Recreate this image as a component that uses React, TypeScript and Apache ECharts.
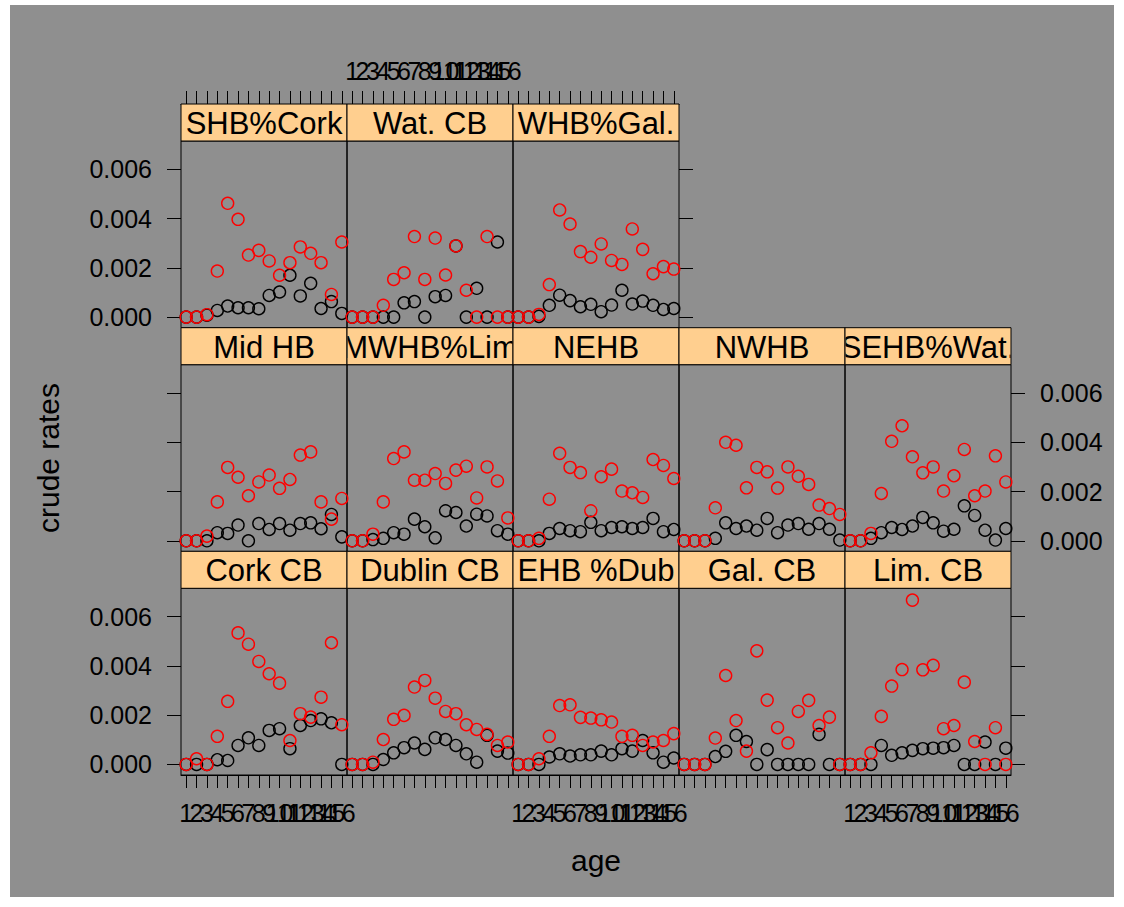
import React, { useEffect, useRef } from "react";
import * as echarts from "echarts";

// ---------- data ----------
const ages = [1, 2, 3, 4, 5, 6, 7, 8, 9, 10, 11, 12, 13, 14, 15, 16];
const yTicks = [0, 0.002, 0.004, 0.006];

const topRowNames = ["SHB%Cork", "Wat. CB", "WHB%Gal."];
const midRowNames = ["Mid HB", "MWHB%Lim", "NEHB", "NWHB", "SEHB%Wat."];
const botRowNames = ["Cork CB", "Dublin CB", "EHB %Dub", "Gal. CB", "Lim. CB"];

const shbCorkBlack = [0, 0, 0.00008, 0.00027, 0.00045, 0.00038, 0.00038, 0.00034, 0.00088, 0.00102, 0.0017, 0.00086, 0.00137, 0.00035, 0.00063, 0.00015];
const shbCorkRed = [0, 0, 0.0001, 0.00187, 0.00462, 0.00397, 0.00252, 0.00271, 0.00228, 0.0017, 0.00221, 0.00285, 0.00259, 0.00221, 0.00092, 0.00305];
const watCbBlack = [0, 0, 0, 0, 0, 0.00058, 0.00063, 0, 0.00083, 0.00088, 0.00289, 0, 0.00117, 0, 0.00305, 0];
const watCbRed = [0, 0, 0, 0.00048, 0.00153, 0.0018, 0.00327, 0.00153, 0.00321, 0.00171, 0.00289, 0.00109, 0, 0.00327, 0, 0];
const whbGalBlack = [0, 0, 0.00003, 0.00048, 0.00089, 0.00067, 0.00042, 0.00052, 0.00022, 0.00049, 0.00109, 0.00053, 0.00065, 0.00048, 0.00031, 0.00035];
const whbGalRed = [0, 0, 0.00011, 0.00132, 0.00435, 0.00378, 0.00266, 0.00243, 0.00297, 0.0023, 0.00214, 0.00358, 0.00275, 0.00176, 0.00205, 0.00195];

const midHbBlack = [0, 0, 0, 0.00033, 0.0003, 0.00064, 0, 0.0007, 0.00046, 0.0007, 0.00043, 0.0007, 0.00073, 0.00049, 0.00107, 0.00016];
const midHbRed = [0, 0, 0.00019, 0.00158, 0.00298, 0.00258, 0.00183, 0.00239, 0.00267, 0.00213, 0.00249, 0.00348, 0.00361, 0.00158, 0.00088, 0.00172];
const mwhbLimBlack = [0, 0, 0.00005, 0.0001, 0.00033, 0.00027, 0.00088, 0.00057, 0.00012, 0.00122, 0.00115, 0.0006, 0.00108, 0.00101, 0.00041, 0.00027];
const mwhbLimRed = [0, 0, 0.00027, 0.00158, 0.00334, 0.00361, 0.00246, 0.00246, 0.00273, 0.00233, 0.00287, 0.00303, 0.00174, 0.003, 0.00243, 0.00093];
const nehbBlack = [0, 0, 0, 0.0003, 0.0005, 0.00041, 0.00037, 0.00075, 0.00041, 0.00054, 0.00057, 0.0005, 0.00054, 0.00091, 0.00037, 0.00046];
const nehbRed = [0, 0, 0.0001, 0.00169, 0.00355, 0.00298, 0.00277, 0.00122, 0.0026, 0.00291, 0.00202, 0.00195, 0.00176, 0.0033, 0.00306, 0.00253];
const nwhbBlack = [0, 0, 0, 0.0001, 0.00073, 0.0005, 0.0006, 0.00043, 0.00091, 0.00033, 0.00064, 0.0007, 0.00047, 0.0007, 0.00047, 0.00003];
const nwhbRed = [0, 0, 0, 0.00134, 0.004, 0.00388, 0.00215, 0.00298, 0.0028, 0.00214, 0.003, 0.00262, 0.00229, 0.00145, 0.00131, 0.00107];
const sehbWatBlack = [0, 0, 0.0001, 0.00033, 0.00054, 0.00046, 0.0006, 0.00095, 0.00073, 0.00039, 0.00047, 0.00142, 0.00103, 0.00043, 0.00003, 0.0005];
const sehbWatRed = [0, 0, 0.0003, 0.00192, 0.00404, 0.00467, 0.00341, 0.00276, 0.003, 0.00202, 0.00264, 0.00371, 0.00183, 0.00202, 0.00345, 0.00239];

const corkCbBlack = [0, 0, 0, 0.00019, 0.00016, 0.00077, 0.00108, 0.00077, 0.00138, 0.00145, 0.00064, 0.00158, 0.00178, 0.00185, 0.00169, 0];
const corkCbRed = [0, 0.00023, 0, 0.00114, 0.00256, 0.00534, 0.00488, 0.00418, 0.00368, 0.0033, 0.00097, 0.00206, 0.00192, 0.00273, 0.00494, 0.00161];
const dublinCbBlack = [0, 0, 0, 0.0002, 0.00047, 0.00068, 0.00087, 0.00061, 0.00108, 0.00101, 0.00077, 0.00043, 0.00009, 0.00118, 0.00054, 0.00046];
const dublinCbRed = [0, 0, 0.00009, 0.00101, 0.00183, 0.00199, 0.00314, 0.00341, 0.00269, 0.00215, 0.00206, 0.00161, 0.00142, 0.00122, 0.00077, 0.00091];
const ehbDubBlack = [0, 0, 0, 0.0003, 0.00043, 0.00034, 0.00039, 0.00039, 0.00054, 0.00039, 0.00064, 0.00054, 0.00097, 0.00047, 0.00009, 0.00026];
const ehbDubRed = [0, 0, 0.00023, 0.00114, 0.00239, 0.00242, 0.00191, 0.00188, 0.00181, 0.00172, 0.00114, 0.00118, 0.00077, 0.00091, 0.00097, 0.00125];
const galCbBlack = [0, 0, 0, 0.00032, 0.00053, 0.00118, 0.00093, 0, 0.0006, 0, 0, 0, 0, 0.00122, 0, 0];
const galCbRed = [0, 0, 0, 0.00107, 0.00361, 0.00178, 0.00054, 0.00461, 0.00261, 0.00149, 0.00087, 0.00215, 0.0026, 0.00158, 0.00192, 0];
const limCbBlack = [0, 0, 0, 0.00077, 0.00037, 0.00047, 0.00057, 0.00064, 0.00066, 0.00068, 0.00077, 0, 0, 0.00091, 0, 0.00066];
const limCbRed = [0, 0, 0.00047, 0.00195, 0.00318, 0.00385, 0.00667, 0.00384, 0.00402, 0.00145, 0.00158, 0.00334, 0.00093, 0, 0.00149, 0];

// ---------- layout / style ----------
const OX = 10;
const OY = 5;
const colLeft = [181, 347, 513, 679, 845];
const stripTop = [104, 327.7, 551.3];
const panelW = 166;
const stripH = 37;
const panelH = 186.7;
const yMin = -0.00043;
const yMax = 0.00715;
const FONT = '"Liberation Sans", Arial, Helvetica, sans-serif';
const BG = "#8f8f8f";
const STRIP = "#ffcf8f";

type Panel = { name: string; row: number; col: number; black: number[]; red: number[] };

const panels: Panel[] = [
  { name: topRowNames[0], row: 0, col: 0, black: shbCorkBlack, red: shbCorkRed },
  { name: topRowNames[1], row: 0, col: 1, black: watCbBlack, red: watCbRed },
  { name: topRowNames[2], row: 0, col: 2, black: whbGalBlack, red: whbGalRed },
  { name: midRowNames[0], row: 1, col: 0, black: midHbBlack, red: midHbRed },
  { name: midRowNames[1], row: 1, col: 1, black: mwhbLimBlack, red: mwhbLimRed },
  { name: midRowNames[2], row: 1, col: 2, black: nehbBlack, red: nehbRed },
  { name: midRowNames[3], row: 1, col: 3, black: nwhbBlack, red: nwhbRed },
  { name: midRowNames[4], row: 1, col: 4, black: sehbWatBlack, red: sehbWatRed },
  { name: botRowNames[0], row: 2, col: 0, black: corkCbBlack, red: corkCbRed },
  { name: botRowNames[1], row: 2, col: 1, black: dublinCbBlack, red: dublinCbRed },
  { name: botRowNames[2], row: 2, col: 2, black: ehbDubBlack, red: ehbDubRed },
  { name: botRowNames[3], row: 2, col: 3, black: galCbBlack, red: galCbRed },
  { name: botRowNames[4], row: 2, col: 4, black: limCbBlack, red: limCbRed },
];

function buildOption() {
  const grid: any[] = [];
  const xAxis: any[] = [];
  const yAxis: any[] = [];
  const extraY: any[] = [];
  const series: any[] = [];

  const tickStyle = { color: "#000", width: 1 };
  const labelBase = { color: "#000", fontSize: 25, fontFamily: FONT };

  panels.forEach((p, i) => {
    const left = colLeft[p.col] - OX;
    const top = stripTop[p.row] + stripH - OY;
    grid.push({
      left,
      top,
      width: panelW,
      height: panelH,
      show: true,
      borderColor: "#000",
      borderWidth: 1,
      backgroundColor: "transparent",
      containLabel: false,
      outerBoundsMode: "none",
    });
    const isTop = p.row === 0;
    const isBot = p.row === 2;
    const showXTicks = isTop || isBot;
    xAxis.push({
      gridIndex: i,
      type: "category",
      data: ages.map(String),
      boundaryGap: true,
      position: isTop ? "top" : "bottom",
      offset: isTop ? stripH : 0,
      axisLine: { show: showXTicks, onZero: false, lineStyle: { color: "#000", width: 1 } },
      splitLine: { show: false },
      axisTick: {
        show: showXTicks,
        inside: false,
        length: 13,
        interval: 0,
        alignWithLabel: true,
        lineStyle: tickStyle,
      },
      axisLabel: {
        ...labelBase,
        show: (isTop && p.col === 1) || (isBot && p.col % 2 === 0),
        interval: 0,
        margin: isTop ? 21 : 25,
        hideOverlap: false,
      },
    });
    yAxis.push({
      gridIndex: i,
      type: "value",
      min: yMin,
      max: yMax,
      position: "left",
      axisLine: { show: false, onZero: false },
      splitLine: { show: false },
      axisTick: { show: p.col === 0, inside: false, length: 14, customValues: yTicks, lineStyle: tickStyle },
      axisLabel: {
        ...labelBase,
        show: p.col === 0 && p.row !== 1,
        customValues: yTicks,
        formatter: (v: number) => v.toFixed(3),
        margin: 29,
        showMinLabel: true,
        showMaxLabel: true,
      },
    });
    const needRight =
      (p.row === 0 && p.col === 2) || (p.row === 1 && p.col === 4) || (p.row === 2 && p.col === 4);
    if (needRight) {
      extraY.push({
        gridIndex: i,
        type: "value",
        min: yMin,
        max: yMax,
        position: "right",
        axisLine: { show: false, onZero: false },
        splitLine: { show: false },
        axisTick: { show: true, inside: false, length: 14, customValues: yTicks, lineStyle: tickStyle },
        axisLabel: {
          ...labelBase,
          show: p.row === 1,
          customValues: yTicks,
          formatter: (v: number) => v.toFixed(3),
          margin: 29,
          showMinLabel: true,
          showMaxLabel: true,
        },
      });
    }
    const mk = (vals: number[], color: string) => ({
      type: "scatter",
      xAxisIndex: i,
      yAxisIndex: i,
      data: vals,
      symbol: "circle",
      symbolSize: 12,
      silent: true,
      clip: false,
      itemStyle: { color: "rgba(0,0,0,0)", borderColor: color, borderWidth: 1.4, opacity: 1 },
    });
    series.push(mk(p.black, "#000000"));
    series.push(mk(p.red, "#ff0000"));
  });

  series.push({
    type: "custom",
    coordinateSystem: "none",
    silent: true,
    z: 10,
    data: panels.map((_, i) => [i]),
    renderItem: (params: any) => {
      const p = panels[params.dataIndex];
      const x = colLeft[p.col] - OX;
      const y = stripTop[p.row] - OY;
      return {
        type: "group",
        children: [
          {
            type: "rect",
            shape: { x, y, width: panelW, height: stripH },
            style: { fill: STRIP, stroke: "#000", lineWidth: 1 },
          },
          {
            type: "group",
            clipPath: { type: "rect", shape: { x: x + 0.5, y, width: panelW - 1, height: stripH } },
            children: [
              {
                type: "text",
                x: x + panelW / 2,
                y: y + stripH / 2 + 1,
                style: {
                  text: p.name,
                  fill: "#000",
                  font: `31px ${FONT}`,
                  align: "center",
                  verticalAlign: "middle",
                },
              },
            ],
          },
        ],
      };
    },
  });

  return {
    animation: false,
    backgroundColor: BG,
    grid,
    xAxis,
    yAxis: [...yAxis, ...extraY],
    series,
    graphic: [
      {
        type: "text",
        x: 48 - OX,
        y: 458 - OY,
        rotation: Math.PI / 2,
        style: { text: "crude rates", font: `30px ${FONT}`, fill: "#000", align: "center", verticalAlign: "middle" },
      },
      {
        type: "text",
        x: 596 - OX,
        y: 860 - OY,
        style: { text: "age", font: `30px ${FONT}`, fill: "#000", align: "center", verticalAlign: "middle" },
      },
    ],
  };
}

export default function App() {
  const ref = useRef<HTMLDivElement>(null);
  useEffect(() => {
    if (!ref.current) return;
    const chart = echarts.init(ref.current, undefined, { renderer: "svg" });
    chart.setOption(buildOption() as any);
    return () => chart.dispose();
  }, []);
  return (
    <div
      ref={ref}
      style={{ position: "absolute", left: OX, top: OY, width: 1104, height: 892 }}
    />
  );
}
